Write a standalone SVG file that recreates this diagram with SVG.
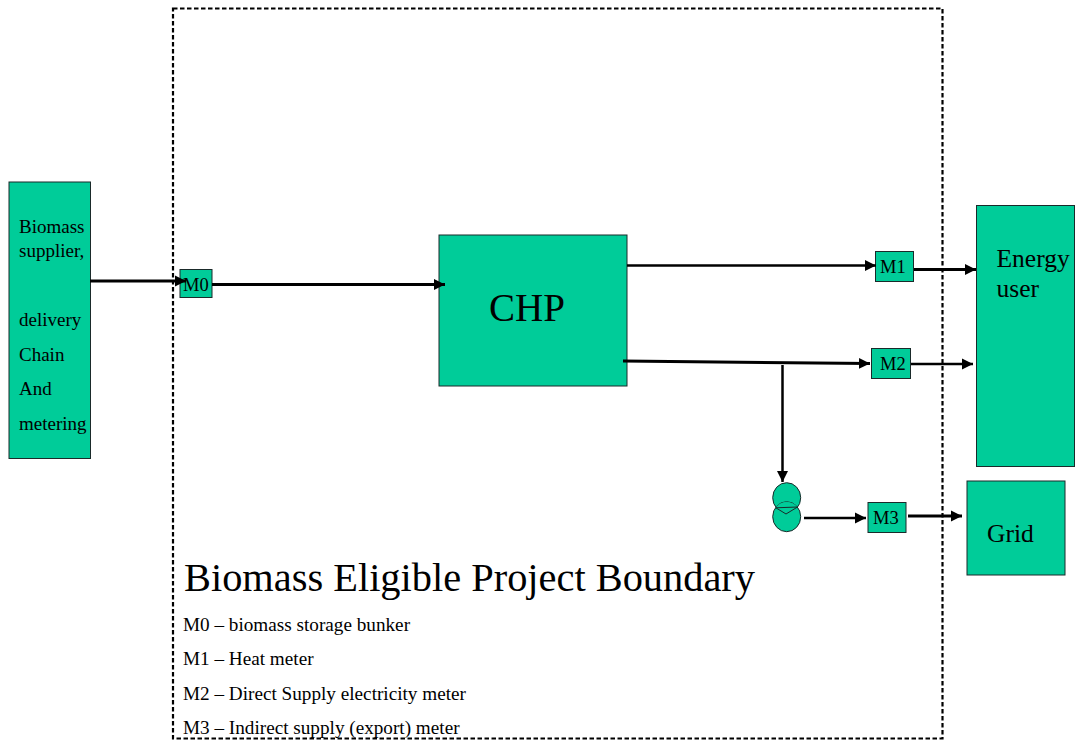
<svg xmlns="http://www.w3.org/2000/svg" width="1078" height="740" viewBox="0 0 1078 740">
<style>
text{font-family:"Liberation Serif","Times New Roman",serif;fill:#000}
.n{fill:#00cc99;stroke:#1a2a2a;stroke-width:1}
.l{fill:none;stroke:#1a2a2a;stroke-width:1}
.f{fill:#00cc99;stroke:#00cc99;stroke-width:.8}
.c{fill:none;stroke:#000;stroke-width:2.500}
.t{fill:none;stroke:#000;stroke-width:3}
.b{fill:none;stroke:#000;stroke-width:2.200;stroke-dasharray:4.500 2.500}
.s{font-size:19px}.m{font-size:18.500px}.g{font-size:25.500px}.k{font-size:19.200px}
</style>
<defs>
<marker id="a" markerUnits="userSpaceOnUse" markerWidth="12" markerHeight="12" refX="11" refY="6" orient="auto"><path d="M0 .5L11 6L0 11.500z" fill="#000"/></marker>
</defs>
<rect width="1078" height="740" fill="#fff"/>
<g id="boundary"><rect class="b" x="173" y="8.500" width="769.500" height="730"/></g>
<g id="supplier"><rect class="n" x="9" y="182" width="81.500" height="276.500"/>
<text class="s" x="19" y="233">Biomass</text><text class="s" x="19" y="257">supplier,</text><text class="s" x="19" y="326">delivery</text><text class="s" x="19" y="361">Chain</text><text class="s" x="19" y="395">And</text><text class="s" x="19" y="430">metering</text></g>
<g id="m0"><rect class="n" x="180" y="269.500" width="32" height="28"/><text class="m" x="183" y="291">M0</text></g>
<g id="chp"><rect class="n" x="439" y="235" width="188" height="151"/><text x="489" y="321" font-size="39">CHP</text></g>
<g id="m1"><rect class="n" x="875.500" y="251.500" width="38" height="30"/><text class="m" x="880" y="273">M1</text></g>
<g id="m2"><rect class="n" x="871.500" y="348.500" width="39" height="30"/><text class="m" x="880" y="370">M2</text></g>
<g id="m3"><rect class="n" x="868" y="502.500" width="38" height="30"/><text class="m" x="873" y="524">M3</text></g>
<g id="energy-user"><rect class="n" x="976.500" y="205.500" width="98" height="261"/><text class="g" x="996.500" y="267">Energy</text><text class="g" x="996.500" y="297">user</text></g>
<g id="grid"><rect class="n" x="967" y="481" width="98" height="94"/><text class="g" x="987" y="541.500">Grid</text></g>
<g id="transformer"><ellipse class="n" cx="786.700" cy="497.700" rx="14" ry="15"/><ellipse class="n" cx="786.700" cy="516.700" rx="14" ry="15"/><path class="f" d="M776.300 507.200A14 15 0 0 1 797.100 507.200A14 15 0 0 1 776.300 507.200Z"/><path class="l" d="M775.900 507.800L797.500 507M775.900 507.800L786 514L797.500 507"/></g>
<g id="connectors">
<path class="t" d="M90 281H186" marker-end="url(#a)"/>
<path class="t" d="M212 284.500H445" marker-end="url(#a)"/>
<path class="c" d="M627 265.500H876" marker-end="url(#a)"/>
<path class="t" d="M914 269.500H976" marker-end="url(#a)"/>
<path class="t" d="M623 361L870 363.500" marker-end="url(#a)"/>
<path class="c" d="M911 364H973" marker-end="url(#a)"/>
<path class="c" d="M782.500 365V482" marker-end="url(#a)"/>
<path class="c" d="M804 518H866" marker-end="url(#a)"/>
<path class="t" d="M908 516H962" marker-end="url(#a)"/>
</g>
<g id="legend">
<text x="184" y="590.500" font-size="40.400">Biomass Eligible Project Boundary</text>
<text class="k" x="183" y="630.500">M0 – biomass storage bunker</text>
<text class="k" x="183" y="664.500">M1 – Heat meter</text>
<text class="k" x="183" y="699.500">M2 – Direct Supply electricity meter</text>
<text class="k" x="183" y="734">M3 – Indirect supply (export) meter</text>
</g>
</svg>
